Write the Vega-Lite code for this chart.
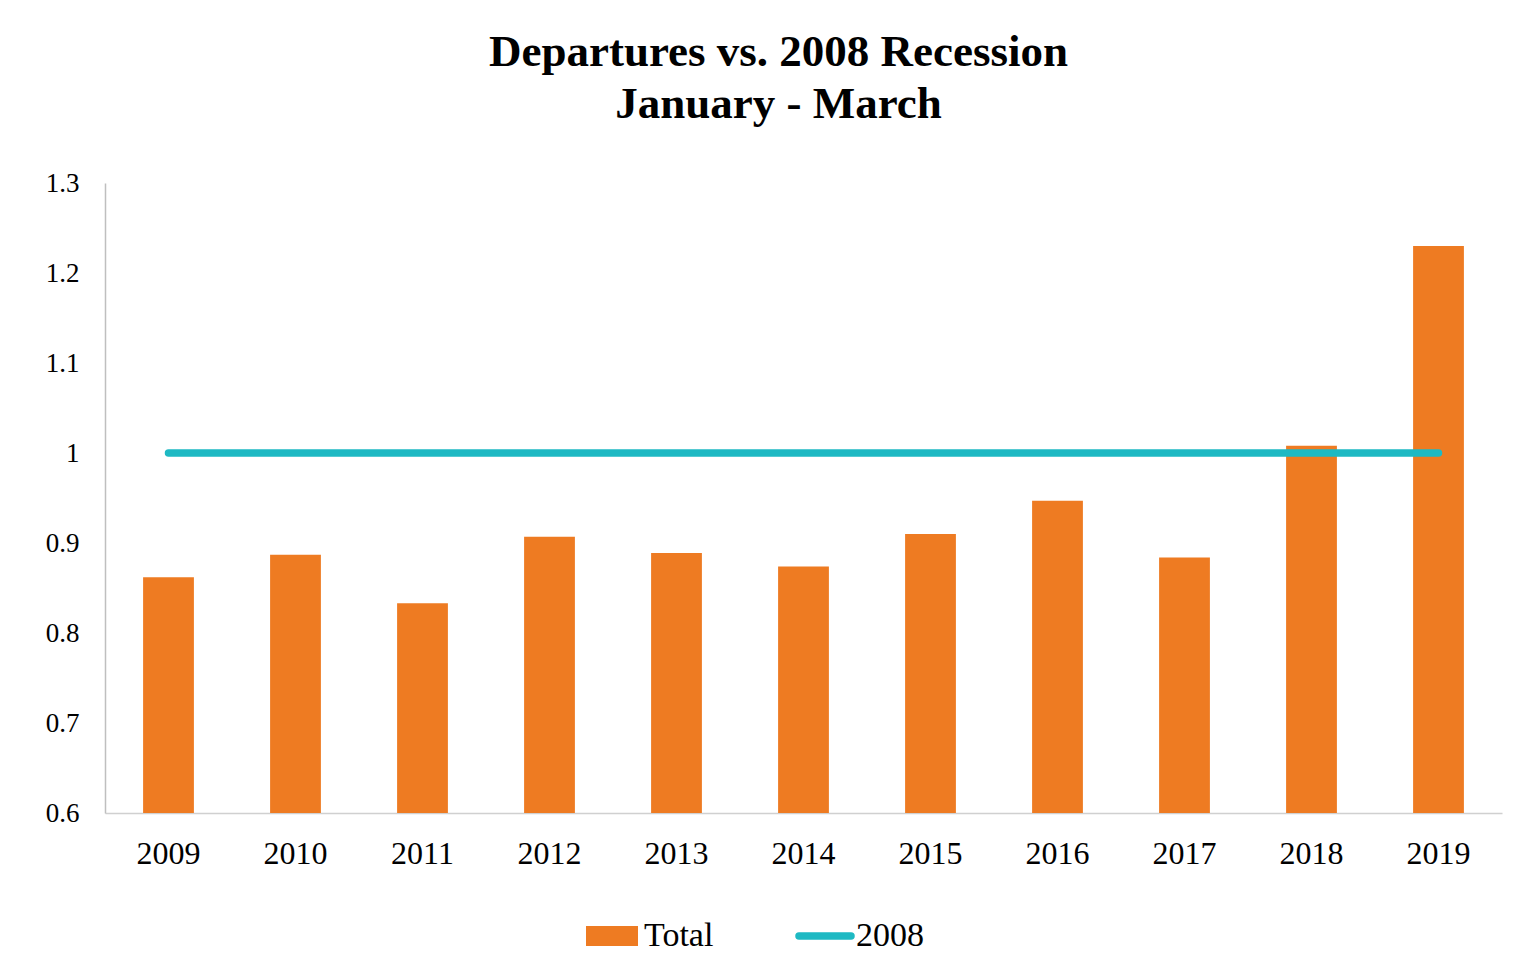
{
  "$schema": "https://vega.github.io/schema/vega-lite/v6.json",
  "autosize": "none",
  "width": 1397,
  "height": 630,
  "padding": {"left": 105, "top": 183, "right": 37, "bottom": 167},
  "background": "white",
  "config": {
    "view": {"stroke": null},
    "font": "Liberation Serif"
  },
  "title": {
    "text": ["Departures vs. 2008 Recession", "January - March"],
    "fontSize": 45,
    "fontWeight": "bold",
    "font": "Liberation Serif",
    "color": "#000000",
    "anchor": "middle",
    "frame": "group",
    "dx": -25,
    "offset": 42,
    "lineHeight": 52
  },
  "data": {
    "values": [
      {"year": "2009", "total": 0.862, "base": 1},
      {"year": "2010", "total": 0.887, "base": 1},
      {"year": "2011", "total": 0.833, "base": 1},
      {"year": "2012", "total": 0.907, "base": 1},
      {"year": "2013", "total": 0.889, "base": 1},
      {"year": "2014", "total": 0.874, "base": 1},
      {"year": "2015", "total": 0.910, "base": 1},
      {"year": "2016", "total": 0.947, "base": 1},
      {"year": "2017", "total": 0.884, "base": 1},
      {"year": "2018", "total": 1.008, "base": 1},
      {"year": "2019", "total": 1.230, "base": 1}
    ]
  },
  "encoding": {
    "x": {
      "field": "year",
      "type": "ordinal",
      "scale": {"paddingInner": 0.6, "paddingOuter": 0.3},
      "axis": {
        "title": null,
        "labelAngle": 0,
        "labelFontSize": 32,
        "labelFont": "Liberation Serif",
        "labelColor": "#000000",
        "labelPadding": 25,
        "ticks": false,
        "domainColor": "#D0D0D0",
        "domainWidth": 1.5
      }
    }
  },
  "layer": [
    {
      "mark": {"type": "bar"},
      "encoding": {
        "y": {
          "field": "total",
          "type": "quantitative",
          "scale": {"domain": [0.6, 1.3], "zero": false, "nice": false},
          "axis": {
            "title": null,
            "values": [0.6, 0.7, 0.8, 0.9, 1.0, 1.1, 1.2, 1.3],
            "format": ".1~f",
            "labelFontSize": 27,
            "labelFont": "Liberation Serif",
            "labelColor": "#000000",
            "labelPadding": 26,
            "ticks": false,
            "grid": false,
            "domainColor": "#BFBFBF",
            "domainWidth": 1.5
          }
        },
        "y2": {"datum": 0.6},
        "color": {
          "datum": "Total",
          "scale": {"domain": ["Total"], "range": ["#EE7B22"]},
          "legend": {
            "title": null,
            "orient": "none",
            "legendX": 481,
            "legendY": 727,
            "padding": 0,
            "symbolType": "M-1,-0.38H1V0.38H-1Z",
            "symbolSize": 2704,
            "symbolStrokeWidth": 0,
            "labelFontSize": 34,
            "labelFont": "Liberation Serif",
            "labelColor": "#000000",
            "labelOffset": 6
          }
        }
      }
    },
    {
      "mark": {"type": "line", "strokeWidth": 7.5, "strokeCap": "round"},
      "encoding": {
        "y": {"field": "base", "type": "quantitative"},
        "stroke": {
          "datum": "2008",
          "scale": {"domain": ["2008"], "range": ["#1EB9C3"]},
          "legend": {
            "title": null,
            "orient": "none",
            "legendX": 690,
            "legendY": 723,
            "padding": 0,
            "symbolType": "stroke",
            "symbolSize": 2704,
            "symbolStrokeWidth": 7.5,
            "labelFontSize": 34,
            "labelFont": "Liberation Serif",
            "labelColor": "#000000",
            "labelOffset": 1,
            "encode": {"symbols": {"update": {"strokeCap": {"value": "round"}}}}
          }
        }
      }
    }
  ]
}
